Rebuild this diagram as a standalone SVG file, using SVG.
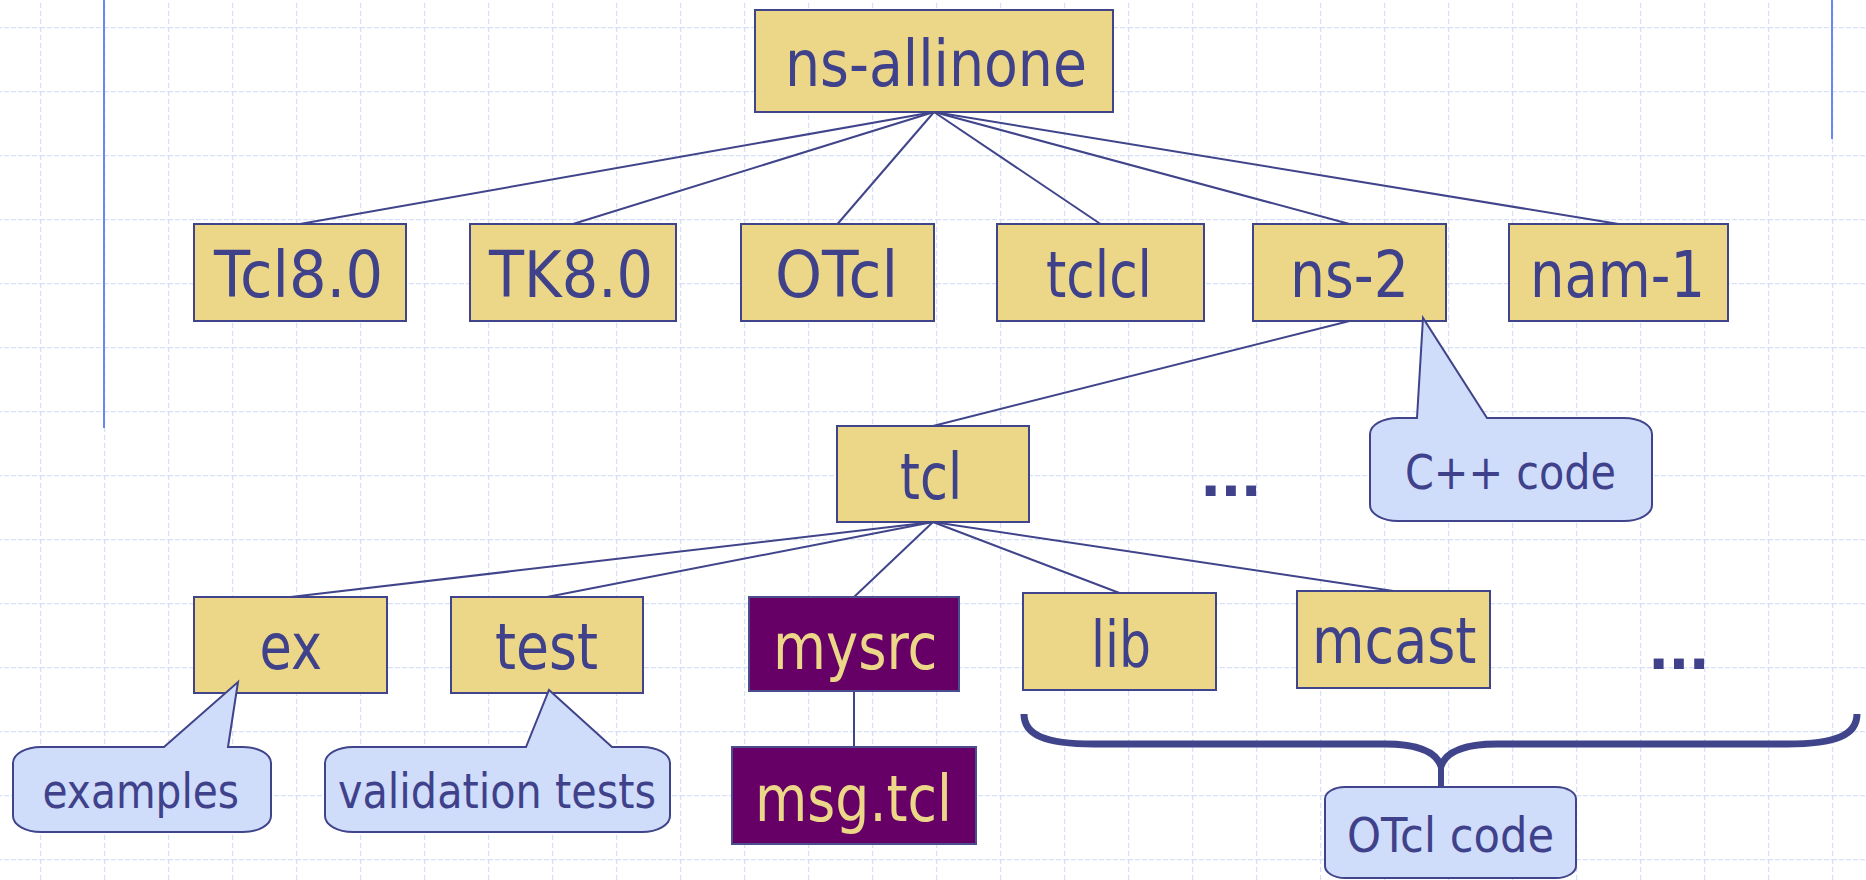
<svg xmlns="http://www.w3.org/2000/svg" width="1866" height="880" viewBox="0 0 1866 880">
  <defs>
    <style>
      .node rect { fill: #ebd787; stroke: #40448a; stroke-width: 2; }
      .node.dark rect { fill: #660066; stroke: #4a4e8e; }
      .node text { font-family: "DejaVu Sans", sans-serif; font-size: 64px; fill: #3f428b; }
      .node.dark text { fill: #ebd787; }
      .callout path { fill: #cfdcfa; stroke: #40448a; stroke-width: 2; }
      .callout text { font-family: "DejaVu Sans", sans-serif; font-size: 48px; fill: #3f428b; }
      .conn line { stroke: #40448a; stroke-width: 2; }
      .dots { font-family: "DejaVu Sans", sans-serif; font-weight: bold; font-size: 56px; fill: #3f428b; letter-spacing: -1px; }
      .side { stroke: #6b86f0; stroke-width: 2; }
    </style>
    <pattern id="grid" patternUnits="userSpaceOnUse" x="40" y="27" width="64" height="64">
      <line x1="0.5" y1="0" x2="0.5" y2="64" stroke="#d6e0f8" stroke-width="1.5" stroke-dasharray="5 3"/>
      <line x1="0" y1="0.5" x2="64" y2="0.5" stroke="#d6e0f8" stroke-width="1.5" stroke-dasharray="5 2"/>
    </pattern>
  </defs>

  <rect x="0" y="0" width="1866" height="880" fill="#ffffff"/>
  <rect x="0" y="0" width="1866" height="880" fill="url(#grid)"/>
  <line class="side" x1="104" y1="0" x2="104" y2="428"/>
  <line class="side" x1="1832" y1="0" x2="1832" y2="139"/>

  <g id="connectors" class="conn">
    <line x1="934" y1="112" x2="300" y2="224"/>
    <line x1="934" y1="112" x2="573" y2="224"/>
    <line x1="934" y1="112" x2="837.5" y2="224"/>
    <line x1="934" y1="112" x2="1100.5" y2="224"/>
    <line x1="934" y1="112" x2="1349.5" y2="224"/>
    <line x1="934" y1="112" x2="1618.5" y2="224"/>
    <line x1="1349.5" y1="321" x2="933" y2="426"/>
    <line x1="933" y1="522" x2="290.5" y2="597"/>
    <line x1="933" y1="522" x2="547" y2="597"/>
    <line x1="933" y1="522" x2="854" y2="597"/>
    <line x1="933" y1="522" x2="1119.5" y2="593"/>
    <line x1="933" y1="522" x2="1393.5" y2="591"/>
    <line x1="854" y1="691" x2="854" y2="747"/>
  </g>

  <g id="ns-allinone" class="node">
    <rect x="755" y="10" width="358" height="102"/>
    <text x="785" y="86" textLength="302" lengthAdjust="spacingAndGlyphs">ns-allinone</text>
  </g>
  <g id="tcl80" class="node">
    <rect x="194" y="224" width="212" height="97"/>
    <text x="214" y="297" textLength="169" lengthAdjust="spacingAndGlyphs">Tcl8.0</text>
  </g>
  <g id="tk80" class="node">
    <rect x="470" y="224" width="206" height="97"/>
    <text x="489" y="297" textLength="164" lengthAdjust="spacingAndGlyphs">TK8.0</text>
  </g>
  <g id="otcl" class="node">
    <rect x="741" y="224" width="193" height="97"/>
    <text x="775" y="297" textLength="123" lengthAdjust="spacingAndGlyphs">OTcl</text>
  </g>
  <g id="tclcl" class="node">
    <rect x="997" y="224" width="207" height="97"/>
    <text x="1046" y="297" textLength="106" lengthAdjust="spacingAndGlyphs">tclcl</text>
  </g>
  <g id="ns-2" class="node">
    <rect x="1253" y="224" width="193" height="97"/>
    <text x="1290" y="297" textLength="119" lengthAdjust="spacingAndGlyphs">ns-2</text>
  </g>
  <g id="nam-1" class="node">
    <rect x="1509" y="224" width="219" height="97"/>
    <text x="1530" y="297" textLength="175" lengthAdjust="spacingAndGlyphs">nam-1</text>
  </g>
  <g id="tcl" class="node">
    <rect x="837" y="426" width="192" height="96"/>
    <text x="900" y="499" textLength="62" lengthAdjust="spacingAndGlyphs">tcl</text>
  </g>
  <g id="ex" class="node">
    <rect x="194" y="597" width="193" height="96"/>
    <text x="259.5" y="669" textLength="62.5" lengthAdjust="spacingAndGlyphs">ex</text>
  </g>
  <g id="test" class="node">
    <rect x="451" y="597" width="192" height="96"/>
    <text x="495" y="669" textLength="103" lengthAdjust="spacingAndGlyphs">test</text>
  </g>
  <g id="mysrc" class="node dark">
    <rect x="749" y="597" width="210" height="94"/>
    <text x="773" y="669" textLength="164.5" lengthAdjust="spacingAndGlyphs">mysrc</text>
  </g>
  <g id="lib" class="node">
    <rect x="1023" y="593" width="193" height="97"/>
    <text x="1091" y="667" textLength="60" lengthAdjust="spacingAndGlyphs">lib</text>
  </g>
  <g id="mcast" class="node">
    <rect x="1297" y="591" width="193" height="97"/>
    <text x="1312" y="663" textLength="164.5" lengthAdjust="spacingAndGlyphs">mcast</text>
  </g>
  <g id="msgtcl" class="node dark">
    <rect x="732" y="747" width="244" height="97"/>
    <text x="755" y="821" textLength="197" lengthAdjust="spacingAndGlyphs">msg.tcl</text>
  </g>

  <g id="dots1">
    <text class="dots" x="1200" y="496">...</text>
  </g>
  <g id="dots2">
    <text class="dots" x="1648" y="669">...</text>
  </g>

  <g id="callout-cpp" class="callout">
    <path d="M1398,418 L1417,418 L1423,318 L1487,418 L1624,418 A28,16 0 0 1 1652,434 L1652,505 A28,16 0 0 1 1624,521 L1398,521 A28,16 0 0 1 1370,505 L1370,434 A28,16 0 0 1 1398,418 Z"/>
    <text x="1405" y="489" textLength="211" lengthAdjust="spacingAndGlyphs">C++ code</text>
  </g>
  <g id="callout-examples" class="callout">
    <path d="M41,747 L164,747 L238,682 L228,747 L243,747 A28,16 0 0 1 271,763 L271,816 A28,16 0 0 1 243,832 L41,832 A28,16 0 0 1 13,816 L13,763 A28,16 0 0 1 41,747 Z"/>
    <text x="42.5" y="808" textLength="196.5" lengthAdjust="spacingAndGlyphs">examples</text>
  </g>
  <g id="callout-validation" class="callout">
    <path d="M353,747 L526,747 L549,690 L612,747 L642,747 A28,16 0 0 1 670,763 L670,816 A28,16 0 0 1 642,832 L353,832 A28,16 0 0 1 325,816 L325,763 A28,16 0 0 1 353,747 Z"/>
    <text x="338" y="808" textLength="318" lengthAdjust="spacingAndGlyphs">validation tests</text>
  </g>

  <g id="brace">
    <path d="M1024,714 C1024,735 1045,744 1094,744 L1385,744 C1420,744 1436,752 1441,766 C1446,752 1462,744 1497,744 L1787,744 C1836,744 1857,735 1857,714" fill="none" stroke="#40448a" stroke-width="7"/>
    <line x1="1441" y1="760" x2="1441" y2="787" stroke="#40448a" stroke-width="6"/>
  </g>
  <g id="callout-otcl" class="callout">
    <path d="M1345,787 L1556,787 A20,12 0 0 1 1576,799 L1576,866 A20,12 0 0 1 1556,878 L1345,878 A20,12 0 0 1 1325,866 L1325,799 A20,12 0 0 1 1345,787 Z"/>
    <text x="1347" y="852" textLength="207" lengthAdjust="spacingAndGlyphs">OTcl code</text>
  </g>
</svg>
